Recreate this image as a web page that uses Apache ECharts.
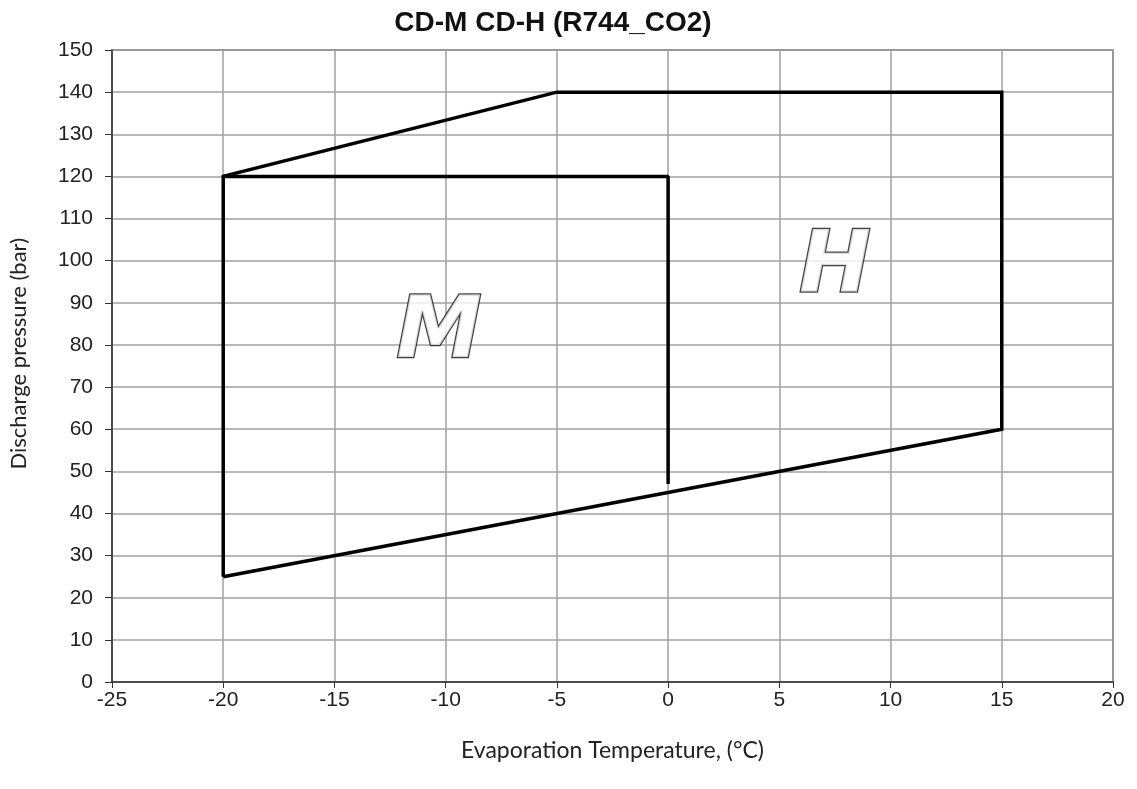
<!DOCTYPE html>
<html>
<head>
<meta charset="utf-8">
<script src="https://cdn.jsdelivr.net/npm/echarts@6/dist/echarts.min.js"></script>
<style>html,body{margin:0;padding:0;background:#fff}#c{width:1137px;height:789px}</style>
</head>
<body>
<div id="c"></div>
<script>
// Data
var titleText = 'CD-M CD-H (R744_CO2)';
var xName = 'Evaporation Temperature, (°C)';
var yName = 'Discharge pressure (bar)';
var hTemps = [-20, -20, -5, 15, 15, -20];
var hPress = [25, 120, 140, 140, 60, 25];
var mTemps = [-20, 0, 0];
var mPress = [120, 120, 47];
var regionLabels = ['M', 'H'];
var labelTemps = [-10.3, 7.5];
var labelPress = [82.5, 98];

function pairs(xs, ys) { return xs.map(function (x, i) { return [x, ys[i]]; }); }

var tickFont = 'Liberation Sans, sans-serif';
var chart = echarts.init(document.getElementById('c'));
chart.setOption({
  animation: false,
  backgroundColor: '#fff',
  title: {
    text: titleText, left: 548, top: 4, textAlign: 'center',
    textStyle: { fontFamily: tickFont, fontWeight: 'bold', fontSize: 28, color: '#111' }
  },
  graphic: [{
    type: 'text', left: 8, top: 238,
    rotation: Math.PI / 2,
    style: { text: yName, font: '22px Lato', fill: '#222' }
  }],
  grid: { left: 112, right: 24, top: 50, bottom: 107, show: true, borderColor: '#555', borderWidth: 1.5 },
  xAxis: {
    type: 'value', min: -25, max: 20, interval: 5,
    name: xName, nameLocation: 'middle', nameGap: 57,
    nameTextStyle: { fontFamily: 'Lato', fontSize: 23, color: '#222' },
    axisLine: { show: true, onZero: false, lineStyle: { color: '#333', width: 1.5 } },
    axisTick: { show: true, length: 6, lineStyle: { color: '#333' } },
    axisLabel: { margin: 8, fontFamily: tickFont, fontSize: 21, color: '#222' },
    splitLine: { show: true, lineStyle: { color: '#a0a0a0', width: 1.5 } }
  },
  yAxis: {
    type: 'value', min: 0, max: 150, interval: 10,
    axisLine: { show: true, onZero: false, lineStyle: { color: '#333', width: 1.5 } },
    axisTick: { show: true, length: 7, lineStyle: { color: '#333' } },
    axisLabel: { margin: 19, fontFamily: tickFont, fontSize: 21, color: '#222' },
    splitLine: { show: true, lineStyle: { color: '#a0a0a0', width: 1.5 } }
  },
  series: [
    { type: 'line', data: pairs(hTemps, hPress), symbol: 'none', lineStyle: { color: '#000', width: 3.5, join: 'miter' } },
    { type: 'line', data: pairs(mTemps, mPress), symbol: 'none', lineStyle: { color: '#000', width: 3.5 } },
    {
      type: 'scatter', symbolSize: 0,
      data: labelTemps.map(function (t, i) { return { value: [t, labelPress[i]], name: regionLabels[i] }; }),
      label: {
        show: true, position: 'inside', formatter: '{b}',
        fontFamily: 'DejaVu Sans', fontStyle: 'italic', fontWeight: 'bold', fontSize: 86,
        color: '#fff', textBorderColor: '#111', textBorderWidth: 2.5
      },
      z: 5
    }
  ]
});
</script>
</body>
</html>
